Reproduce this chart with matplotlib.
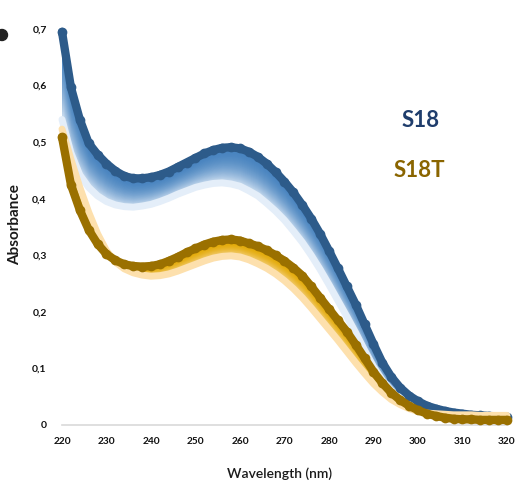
import numpy as np
import matplotlib
matplotlib.use("Agg")
import matplotlib.pyplot as plt
from matplotlib.colors import to_rgb
from matplotlib.patches import Ellipse

# ---------------- data ----------------
wavelength = np.arange(220, 321, 2)

s18_first = [0.695, 0.597, 0.540, 0.498, 0.478, 0.462, 0.449, 0.440, 0.436, 0.436,
             0.438, 0.442, 0.448, 0.456, 0.464, 0.472, 0.480, 0.486, 0.490, 0.491,
             0.489, 0.483, 0.474, 0.462, 0.447, 0.430, 0.411, 0.389, 0.365, 0.338,
             0.308, 0.277, 0.245, 0.213, 0.178, 0.143, 0.110, 0.085, 0.066, 0.052,
             0.042, 0.034, 0.029, 0.025, 0.022, 0.020, 0.018, 0.017, 0.016, 0.015,
             0.014]
s18_last = [0.540, 0.481, 0.442, 0.420, 0.405, 0.395, 0.389, 0.386, 0.385, 0.387,
            0.390, 0.395, 0.401, 0.408, 0.414, 0.420, 0.424, 0.427, 0.428, 0.426,
            0.422, 0.414, 0.405, 0.392, 0.378, 0.362, 0.343, 0.323, 0.300, 0.275,
            0.248, 0.220, 0.192, 0.163, 0.132, 0.103, 0.079, 0.061, 0.048, 0.038,
            0.031, 0.026, 0.022, 0.020, 0.018, 0.016, 0.015, 0.014, 0.013, 0.013,
            0.012]
s18t_first = [0.509, 0.425, 0.380, 0.345, 0.320, 0.302, 0.291, 0.284, 0.281, 0.280,
              0.281, 0.284, 0.290, 0.297, 0.305, 0.312, 0.319, 0.324, 0.327, 0.328,
              0.326, 0.321, 0.316, 0.309, 0.300, 0.290, 0.278, 0.264, 0.245, 0.225,
              0.205, 0.185, 0.165, 0.142, 0.118, 0.094, 0.074, 0.057, 0.044, 0.034,
              0.026, 0.020, 0.016, 0.013, 0.011, 0.010, 0.010, 0.009, 0.009, 0.009,
              0.009]
s18t_last = [0.523, 0.470, 0.420, 0.376, 0.338, 0.308, 0.288, 0.276, 0.269, 0.265,
             0.263, 0.264, 0.267, 0.272, 0.278, 0.284, 0.290, 0.295, 0.298, 0.299,
             0.297, 0.292, 0.285, 0.277, 0.267, 0.255, 0.241, 0.225, 0.207, 0.188,
             0.169, 0.150, 0.130, 0.110, 0.091, 0.073, 0.058, 0.045, 0.036, 0.029,
             0.024, 0.021, 0.020, 0.019, 0.018, 0.018, 0.018, 0.017, 0.017, 0.017,
             0.017]

series_names = ["S18", "S18T"]
x_ticks = [220, 230, 240, 250, 260, 270, 280, 290, 300, 310, 320]
y_ticks = [0, 0.1, 0.2, 0.3, 0.4, 0.5, 0.6, 0.7]
y_tick_labels = ["0", "0,1", "0,2", "0,3", "0,4", "0,5", "0,6", "0,7"]

# ---------------- styling ----------------
FONT = "Lato"
W, H = 515, 483
fig = plt.figure(figsize=(W / 100, H / 100), dpi=100)
fig.patch.set_facecolor("white")

left_px, right_px, bottom_px, top_px = 62, 507, 425, 29
ax = fig.add_axes([left_px / W, 1 - bottom_px / H,
                   (right_px - left_px) / W, (bottom_px - top_px) / H])
ax.set_xlim(220, 320)
ax.set_ylim(0, 0.7)
for s in ["top", "right", "left"]:
    ax.spines[s].set_visible(False)
ax.spines["bottom"].set_color("#d9d9d9")
ax.spines["bottom"].set_linewidth(1.2)
ax.spines["bottom"].set_zorder(0.5)
ax.tick_params(length=0)
ax.set_xticks(x_ticks)
ax.set_xticklabels([str(t) for t in x_ticks], fontfamily=FONT, fontweight="bold",
                   fontsize=7.3, color="#111111")
ax.set_yticks(y_ticks)
ax.set_yticklabels(y_tick_labels, fontfamily=FONT, fontweight="bold",
                   fontsize=7.5, color="#111111")
ax.tick_params(axis="x", pad=9)
ax.tick_params(axis="y", pad=11)


def band(first, last, dark, top_col, pale, z, steps=40):
    first = np.asarray(first)
    last = np.asarray(last)
    top = np.array(to_rgb(top_col))
    low = np.array(to_rgb(pale))
    # gradient fill between the first and the last spectrum:
    # nested fills from the last spectrum upwards, lighter ones on top
    for k in range(steps, 0, -1):
        t = k / steps
        w = 1 - (1 - t) ** 2
        col = low + (top - low) * w
        ax.fill_between(wavelength, last, last + (first - last) * t,
                        color=col, lw=0, antialiased=False,
                        zorder=z + 0.1, clip_on=False)
    # soft pale edge of the last spectrum
    ax.plot(wavelength, last, color=pale, lw=5.0, solid_capstyle="round",
            solid_joinstyle="round", zorder=z + 0.15, clip_on=False)
    # dark first spectrum on top
    ax.plot(wavelength, first, color=dark, lw=6.0, marker="o", ms=7.0,
            mec="none", solid_capstyle="round", solid_joinstyle="round",
            zorder=z + 0.2, clip_on=False)


band(s18_first, s18_last, "#2d5b8a", "#4783bf", "#e4eef9", 2)
band(s18t_first, s18t_last, "#9a7000", "#e2a800", "#fde0ad", 3)

ax.text(300.5, 0.539, series_names[0], fontfamily=FONT, fontweight="bold",
        fontsize=16, color="#1f3d6c", ha="center", va="center")
ax.text(300.3, 0.450, series_names[1], fontfamily=FONT, fontweight="bold",
        fontsize=16, color="#8a6500", ha="center", va="center")

ax.set_xlabel("Wavelength (nm)", fontfamily=FONT, fontsize=10,
              fontweight="semibold", color="#1a1a1a")
ax.xaxis.set_label_coords((279.5 - left_px) / (right_px - left_px),
                          -(467 - bottom_px) / (bottom_px - top_px))
ax.set_ylabel("Absorbance", fontfamily=FONT, fontsize=11, fontweight="bold",
              color="#1a1a1a")
ax.yaxis.set_label_coords(-(left_px - 22) / (right_px - left_px),
                          (bottom_px - 225) / (bottom_px - top_px))

fig.add_artist(Ellipse((2 / W, 1 - 35 / H), 11 / W, 11 / H,
                       transform=fig.transFigure, color="#222222"))

fig.savefig("out.png", dpi=100)
